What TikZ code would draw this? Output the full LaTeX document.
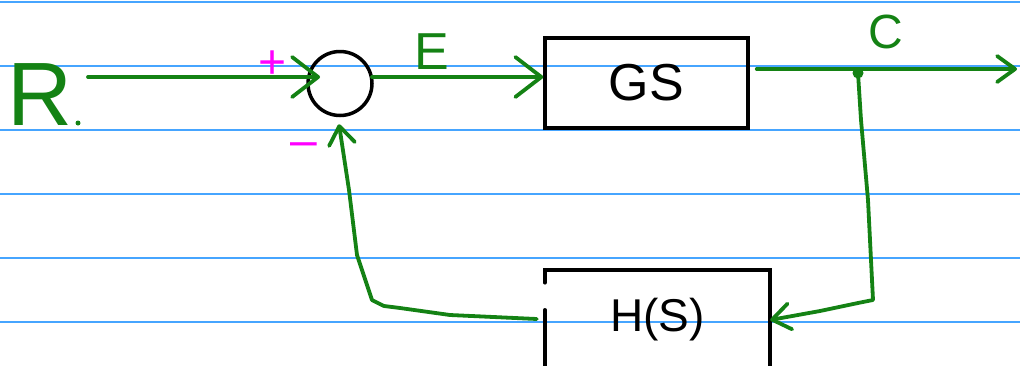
\documentclass[tikz,border=0pt]{standalone}
\usepackage{fontspec}
\setmainfont{Liberation Sans}
\usetikzlibrary{arrows.meta,calc}
\definecolor{pengreen}{RGB}{20,130,20}
\definecolor{ruleblue}{RGB}{70,165,255}
\definecolor{penpink}{RGB}{255,0,255}
\newcommand{\fsz}[1]{\fontsize{#1}{#1}\selectfont}
\begin{document}
\begin{tikzpicture}[x=1pt,y=-1pt,
  ruling/.style={draw=ruleblue,line width=1.2pt},
  wire/.style={draw=pengreen,line width=3.8pt,line cap=round,line join=round},
  bigtip/.style={-{Straight Barb[length=26pt,width=40pt,line cap=round,line join=round]}},
  smalltip/.style={-{Straight Barb[length=18pt,width=26pt,line cap=round,line join=round]}},
  edge/.style={draw=black,line width=3.5pt,line cap=round},
  lbl/.style={inner sep=0pt,text=pengreen},
  sign/.style={inner sep=0pt,text=penpink},
]
\useasboundingbox (0,0) rectangle (1020,365);
\clip (0,0) rectangle (1020,365);

% ruled paper
\foreach \y in {2,66,130,194,258,322} \draw[ruling] (0,\y) -- (1020,\y);

% blocks
\node[circle,draw=black,line width=3.5pt,minimum size=64pt,inner sep=0pt] (sum) at (340,83.5) {};
\node[rectangle,draw=black,line width=3.5pt,minimum width=203pt,minimum height=90pt,
      inner sep=0pt,font=\fsz{52}] (G) at (646.5,83) {GS};
\node[rectangle,minimum width=225pt,minimum height=100pt,inner sep=0pt,
      font=\fsz{46}] (H) at (657.5,320) {H(S)};
% feedback box outline, open on the left where the wire leaves
\draw[edge] ($(H.north west)+(0,13)$) -- (H.north west) -- (H.north east) -- (H.south east);
\draw[edge] ($(H.north west)+(0,40)$) -- (H.south west);

% labels
\node[lbl,font=\fsz{90}] (R) at (40,95) {R};
\node[circle,fill=pengreen,minimum size=5pt,inner sep=0pt] (Rdot) at (78,123) {};
\node[lbl,font=\fsz{52}] (E) at (432,52) {E};
\node[lbl,font=\fsz{48}] (C) at (886,32) {C};
\node[sign,font=\fsz{48}] (plus) at (273,65) {+};
\node[sign,font=\fsz{48}] (minus) at (304,150) {–};

% signal path
\coordinate (rin) at (88,77);
\coordinate (yout) at (1017,69);
\node[circle,fill=pengreen,minimum size=11pt,inner sep=0pt] (tap) at (858,73) {};

\draw[wire,bigtip] (rin) -- ($(sum.center)+(-20,-6.5)$);
\draw[wire,bigtip] ($(sum.center)+(32,-6.5)$) -- ($(G.west)+(0,-6)$);
\draw[wire,smalltip] ($(G.east)+(7,-14)$) -- (yout);

% feedback loop
\draw[wire,smalltip] (tap.center) -- (861,120) -- (868,200) -- (873,300)
  -- (858,303) -- (820,311) -- (H.east);
\draw[wire,smalltip] ($(H.west)+(-8,-1)$) -- (450,315) -- (400,308) -- (384,306)
  -- (372,300) -- (357,255) -- (349,190) -- ($(sum.south)+(-1,7)$);
\end{tikzpicture}
\end{document}
